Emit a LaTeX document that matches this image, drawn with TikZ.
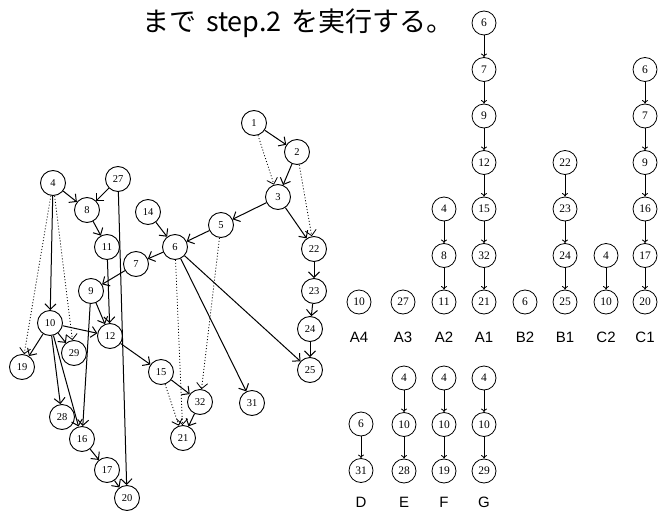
\documentclass[tikz,border=0pt]{standalone}
\usepackage{fontspec}
\setmainfont{Liberation Serif}
\newfontfamily\jpfont{Noto Sans CJK JP}
\newfontfamily\lblfont{Liberation Sans}
\usetikzlibrary{arrows.meta}
\newcommand\mychain[4]{%
  \foreach \v [count=\i] in {#4} {
    \node[rn] (#1-\i) at (#2, {#3+46.5*(\i-1)}) {\v};
    \ifnum\i>1 \pgfmathtruncatemacro\j{\i-1}\draw[re] (#1-\j) -- (#1-\i);\fi
  }}
\begin{document}
\begin{tikzpicture}[x=1pt,y=-1pt,
 gn/.style={circle,draw,line width=0.9pt,minimum size=25pt,inner sep=0pt,font=\fontsize{10.5}{10.5}\selectfont},
 rn/.style={circle,draw,line width=0.8pt,minimum size=24pt,inner sep=0pt,font=\fontsize{11.5}{11.5}\selectfont},
 ge/.style={line width=1pt,-{Straight Barb[length=5.5pt,width=11pt]}},
 gd/.style={ge,dotted,line width=0.8pt},
 re/.style={line width=0.8pt,-{To[length=3.5pt,width=6pt]}},
 lab/.style={font=\lblfont\fontsize{15}{15}\selectfont,inner sep=1pt}]
\useasboundingbox (0,0) rectangle (658,511);
% title
\node[font=\jpfont\fontsize{27}{27}\selectfont,inner sep=0pt] (title) at (298,23) {まで\hspace{0.35em}step.2\hspace{0.35em}を実行する。};
% left graph nodes
\node[gn] (n1) at (254,123) {1};
\node[gn] (n2) at (297,152) {2};
\node[gn] (n3) at (278,197) {3};
\node[gn] (n5) at (221,225) {5};
\node[gn] (n14) at (148,212) {14};
\node[gn] (n6) at (175,247) {6};
\node[gn] (n7) at (136,264) {7};
\node[gn] (n22) at (314,249) {22};
\node[gn] (n23) at (314,291) {23};
\node[gn] (n24) at (310,329) {24};
\node[gn] (n25) at (310,370) {25};
\node[gn] (n31) at (252,403) {31};
\node[gn] (n32) at (200,402) {32};
\node[gn] (n21) at (183,438) {21};
\node[gn] (n15) at (161,372) {15};
\node[gn] (n4) at (53,183) {4};
\node[gn] (n27) at (118,179) {27};
\node[gn] (n8) at (87,210) {8};
\node[gn] (n11) at (107,247) {11};
\node[gn] (n9) at (91,291) {9};
\node[gn] (n10) at (50,323) {10};
\node[gn] (n12) at (110,336) {12};
\node[gn] (n29) at (74,353) {29};
\node[gn] (n19) at (22,367) {19};
\node[gn] (n28) at (62,417) {28};
\node[gn] (n16) at (82,439) {16};
\node[gn] (n17) at (107,470) {17};
\node[gn] (n20) at (127,498) {20};
% left graph edges
\draw[ge] (n1) -- (n2);
\draw[gd] (n1) -- (n3);
\draw[ge] (n2) -- (n3);
\draw[gd] (n2) -- (n22);
\draw[ge] (n3) -- (n5);
\draw[ge] (n3) -- (n22);
\draw[ge] (n5) -- (n6);
\draw[gd] (n5) -- (n32);
\draw[ge] (n14) -- (n6);
\draw[ge] (n6) -- (n7);
\draw[gd] (n6) -- (n21);
\draw[ge] (n6) -- (n31);
\draw[ge] (n6) -- (n25);
\draw[ge] (n22) -- (n23);
\draw[ge] (n23) -- (n24);
\draw[ge] (n24) -- (n25);
\draw[ge] (n15) -- (n32);
\draw[gd] (n15) -- (n21);
\draw[ge] (n32) -- (n21);
\draw[ge] (n4) -- (n8);
\draw[ge] (n4) -- (n10);
\draw[gd] (n4) -- (n19);
\draw[gd] (n4) -- (n29);
\draw[ge] (n27) -- (n8);
\draw[ge] (n27) -- (n20);
\draw[ge] (n8) -- (n11);
\draw[ge] (n11) -- (n12);
\draw[ge] (n7) -- (n9);
\draw[ge] (n9) -- (n12);
\draw[ge] (n9) -- (n16);
\draw[ge] (n10) -- (n19);
\draw[ge] (n10) -- (n29);
\draw[ge] (n10) -- (n12);
\draw[ge] (n10) -- (n28);
\draw[ge] (n10) -- (n16);
\draw[ge] (n12) -- (n15);
\draw[ge] (n16) -- (n17);
\draw[ge] (n17) -- (n20);
% right chains
\mychain{aiv}{359}{302}{10}
\mychain{aiii}{403}{302}{27}
\mychain{aii}{444}{209}{4,8,11}
\mychain{ai}{484}{23}{6,7,9,12,15,32,21}
\mychain{bii}{525}{302}{6}
\mychain{bi}{565}{162.5}{22,23,24,25}
\mychain{cii}{606}{255.5}{4,10}
\mychain{ci}{645}{69.5}{6,7,9,16,17,20}
\node[lab] (lA4) at (359,337) {A4};
\node[lab] (lA3) at (403,337) {A3};
\node[lab] (lA2) at (444,337) {A2};
\node[lab] (lA1) at (484,337) {A1};
\node[lab] (lB2) at (525,337) {B2};
\node[lab] (lB1) at (565,337) {B1};
\node[lab] (lC2) at (606,337) {C2};
\node[lab] (lC1) at (645,337) {C1};
\mychain{d}{361}{424}{6,31}
\mychain{e}{404}{378}{4,10,28}
\mychain{f}{444}{378}{4,10,19}
\mychain{g}{484}{378}{4,10,29}
\node[lab] (lD) at (361,502) {D};
\node[lab] (lE) at (404,502) {E};
\node[lab] (lF) at (444,502) {F};
\node[lab] (lG) at (484,502) {G};
\end{tikzpicture}
\end{document}
